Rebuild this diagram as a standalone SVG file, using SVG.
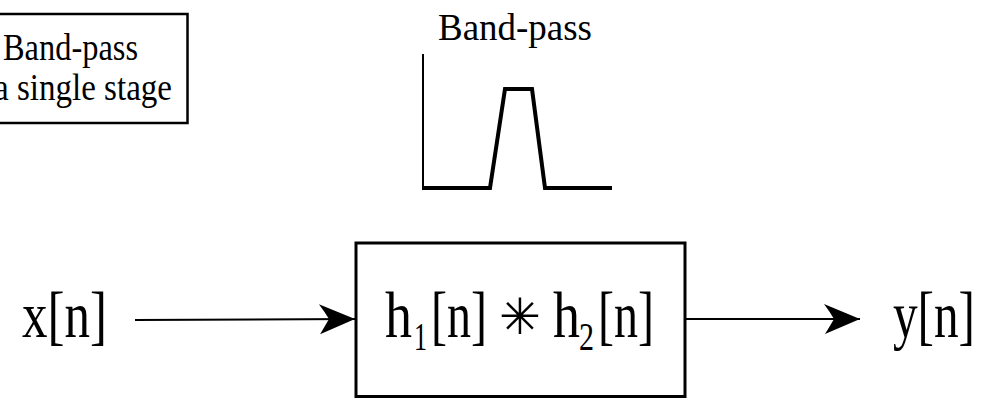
<svg xmlns="http://www.w3.org/2000/svg" width="992" height="399" viewBox="0 0 992 399">
  <style>
    .serif { font-family: "Liberation Serif", "Times New Roman", serif; fill: #000; }
    .sym { font-family: "DejaVu Sans", sans-serif; fill: #000; }
    .box { fill: #fff; stroke: #000; }
    .wire { stroke: #000; stroke-width: 2; fill: none; }
    .plot { stroke: #000; fill: none; stroke-linejoin: miter; }
  </style>
  <defs>
    <marker id="arrow" viewBox="0 0 40 34" refX="38" refY="17" markerWidth="40" markerHeight="34" markerUnits="userSpaceOnUse" orient="auto">
      <path d="M38,17 L2,2 Q8,10 12,17 Q8,24 3,32 Z" fill="#000"/>
    </marker>
  </defs>
  <rect width="992" height="399" fill="#fff"/>

  <!-- legend box (clipped at left edge) -->
  <g id="legend">
    <rect class="box" x="-10" y="14" width="197.5" height="109" stroke-width="2.5"/>
    <text class="serif" x="3" y="60" font-size="38" textLength="135" lengthAdjust="spacingAndGlyphs">Band-pass</text>
    <text class="serif" x="-6" y="100" font-size="38" textLength="178" lengthAdjust="spacingAndGlyphs">a single stage</text>
  </g>

  <!-- band-pass frequency response sketch -->
  <g id="response">
    <text class="serif" x="438" y="40" font-size="37" textLength="154" lengthAdjust="spacingAndGlyphs">Band-pass</text>
    <line class="plot" x1="423" y1="54" x2="423" y2="189" stroke-width="2"/>
    <path class="plot" d="M422,188 L490,188 L505,89 L532,89 L545,188 L612,188" stroke-width="4"/>
  </g>

  <!-- input / output labels -->
  <g id="input">
    <text class="serif" x="22" y="337" font-size="66" textLength="85" lengthAdjust="spacingAndGlyphs">x[n]</text>
  </g>
  <g id="output">
    <text class="serif" x="893" y="337" font-size="66" textLength="82" lengthAdjust="spacingAndGlyphs">y[n]</text>
  </g>

  <!-- cascaded filter block -->
  <g id="filter">
    <rect class="box" x="356" y="243" width="329" height="153.5" stroke-width="3"/>
    <text class="serif" x="385" y="337" font-size="66" textLength="27" lengthAdjust="spacingAndGlyphs">h</text>
    <text class="serif" x="414" y="350" font-size="40" textLength="13" lengthAdjust="spacingAndGlyphs">1</text>
    <text class="serif" x="431" y="337" font-size="66" textLength="56" lengthAdjust="spacingAndGlyphs">[n]</text>
    <text class="sym" x="520" y="334" font-size="50" text-anchor="middle">✳</text>
    <text class="serif" x="553" y="337" font-size="66" textLength="27" lengthAdjust="spacingAndGlyphs">h</text>
    <text class="serif" x="579" y="350" font-size="40" textLength="15" lengthAdjust="spacingAndGlyphs">2</text>
    <text class="serif" x="598" y="337" font-size="66" textLength="56" lengthAdjust="spacingAndGlyphs">[n]</text>
  </g>

  <!-- connectors -->
  <g id="connectors">
    <line class="wire" x1="135" y1="320" x2="355" y2="319" marker-end="url(#arrow)"/>
    <line class="wire" x1="685" y1="319" x2="860" y2="319" marker-end="url(#arrow)"/>
  </g>
</svg>
